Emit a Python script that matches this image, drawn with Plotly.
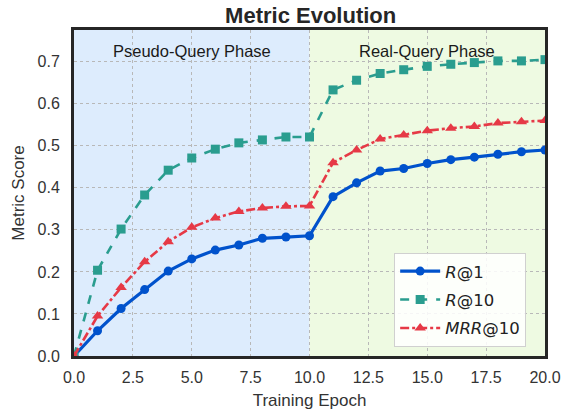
import plotly.graph_objects as go

epochs = list(range(0, 21))
r1 = [0.0, 0.060, 0.113, 0.158, 0.202, 0.231, 0.252, 0.264, 0.280, 0.283, 0.286,
      0.379, 0.412, 0.440, 0.446, 0.458, 0.467, 0.473, 0.480, 0.486, 0.490]
r10 = [0.0, 0.204, 0.302, 0.383, 0.442, 0.471, 0.492, 0.507, 0.514, 0.521, 0.521,
       0.633, 0.656, 0.672, 0.681, 0.689, 0.694, 0.698, 0.702, 0.702, 0.705]
mrr10 = [0.0, 0.095, 0.163, 0.224, 0.272, 0.306, 0.328, 0.344, 0.352, 0.356, 0.357,
         0.460, 0.490, 0.516, 0.526, 0.536, 0.542, 0.546, 0.554, 0.557, 0.560]

series_names = ["<i>R</i>@1", "<i>R</i>@10", "<i>MRR</i>@10"]
phase_labels = ["Pseudo-Query Phase", "Real-Query Phase"]
phase_bounds = [0, 10, 20]
x_ticks = [0, 2.5, 5, 7.5, 10, 12.5, 15, 17.5, 20]
y_ticks = [0, 0.1, 0.2, 0.3, 0.4, 0.5, 0.6, 0.7]

SANS = "Liberation Sans, Arial, sans-serif"

fig = go.Figure()

fig.add_trace(go.Scatter(x=epochs, y=r1, name=series_names[0], mode="lines+markers", legendgroup="a",
                         line=dict(color="#0052cc", width=3.2, dash="solid"),
                         marker=dict(symbol="circle", size=9, color="#0052cc")))
fig.add_trace(go.Scatter(x=epochs, y=r10, name=series_names[1], mode="lines+markers", legendgroup="b",
                         line=dict(color="#2a9d8f", width=2.6, dash="dash"),
                         marker=dict(symbol="square", size=9, color="#2a9d8f")))
fig.add_trace(go.Scatter(x=epochs, y=mrr10, name=series_names[2], mode="lines+markers", legendgroup="c",
                         line=dict(color="#e63946", width=2.6, dash="dashdot"),
                         marker=dict(symbol="triangle-up", size=10, color="#e63946")))

# phase backgrounds
fig.add_shape(type="rect", xref="x", yref="paper", x0=phase_bounds[0], x1=phase_bounds[1],
              y0=0, y1=1, fillcolor="#ddecfd", line_width=0, layer="below")
fig.add_shape(type="rect", xref="x", yref="paper", x0=phase_bounds[1], x1=phase_bounds[2],
              y0=0, y1=1, fillcolor="#eefae2", line_width=0, layer="below")

fig.add_annotation(x=5, y=0.726, text=phase_labels[0], showarrow=False,
                   font=dict(size=16.5, color="#1a1a1a", family=SANS))
fig.add_annotation(x=15, y=0.726, text=phase_labels[1], showarrow=False,
                   font=dict(size=16.5, color="#1a1a1a", family=SANS))

axis_common = dict(showgrid=True, gridcolor="#b8b8b8", griddash="dot", gridwidth=1,
                   showline=True, linecolor="#262626", linewidth=3, mirror=True,
                   ticks="outside", tickcolor="rgba(0,0,0,0)", zeroline=False, automargin=False,
                   tickfont=dict(size=16, color="#333333", family=SANS))

fig.update_xaxes(range=[0, 20], tickvals=x_ticks, ticktext=[f"{v:.1f}" for v in x_ticks], ticklen=5,
                 title=dict(text="Training Epoch", font=dict(size=17, color="#333333", family=SANS), standoff=9),
                 **axis_common)
fig.update_yaxes(range=[0, 0.7755], tickvals=y_ticks, ticktext=[f"{v:.1f}" for v in y_ticks], ticklen=8,
                 title=dict(text="Metric Score", font=dict(size=17, color="#333333", family=SANS), standoff=9),
                 **axis_common)

fig.update_layout(
    width=570, height=414,
    margin=dict(l=74, r=25, t=30, b=58),
    paper_bgcolor="white", plot_bgcolor="white",
    font=dict(family=SANS, color="#333333"),
    title=dict(text="<b>Metric Evolution</b>", x=0.545, xanchor="center", y=0.963, yanchor="middle",
               font=dict(size=22, color="#262626", family=SANS)),
    legend=dict(x=0.96, y=0.028, xanchor="right", yanchor="bottom",
                bgcolor="rgba(255,255,255,0.85)", bordercolor="#d0d0d0", borderwidth=1,
                font=dict(size=16.5, color="#222222", family="DejaVu Sans"),
                itemwidth=40, tracegroupgap=4),
    showlegend=True,
)

fig.write_html("out.html")
